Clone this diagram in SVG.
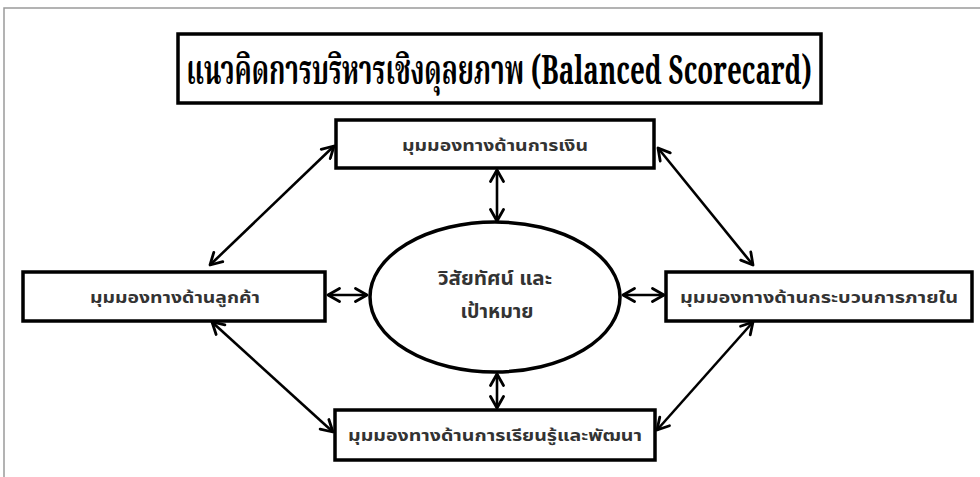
<svg xmlns="http://www.w3.org/2000/svg" width="980" height="477" viewBox="0 0 980 477">
<style>
.box{fill:#fff;stroke:#000;stroke-width:3.5}
.lbl{font-family:"Noto Sans Thai","Noto Sans","DejaVu Sans",sans-serif;font-size:16px;font-weight:bold;fill:#333;text-anchor:middle}
.ell{font-family:"Noto Sans Thai","Noto Sans","DejaVu Sans",sans-serif;font-size:20px;font-weight:bold;fill:#333;text-anchor:middle}
.title{font-family:"Noto Serif Thai","Liberation Serif","DejaVu Serif",serif;font-size:40px;font-weight:bold;fill:#000;text-anchor:middle}
.conn line{stroke:#000;stroke-width:2.6;marker-start:url(#ah);marker-end:url(#ah)}
</style>
<defs>
<marker id="ah" viewBox="0 0 16 16" refX="14" refY="8" markerWidth="16" markerHeight="16" markerUnits="userSpaceOnUse" orient="auto-start-reverse">
<path d="M2.5,1.5 L14,8 L2.5,14.5" fill="none" stroke="#000" stroke-width="2.8" stroke-linecap="round" stroke-linejoin="round"/>
</marker>
</defs>
<rect x="0" y="0" width="980" height="477" fill="#fff"/>
<rect x="4" y="8" width="1000" height="500" fill="none" stroke="#9a9a9a" stroke-width="1.5"/>
<g id="title">
<rect class="box" x="178" y="34" width="643" height="69" stroke-width="4"/>
<text class="title" transform="translate(499,84) scale(0.65,1)" x="0" y="0">แนวคิดการบริหารเชิงดุลยภาพ (Balanced Scorecard)</text>
</g>
<g id="financial">
<rect class="box" x="336" y="120" width="318" height="48"/>
<text class="lbl" x="495" y="151" textLength="186" lengthAdjust="spacingAndGlyphs">มุมมองทางด้านการเงิน</text>
</g>
<g id="customer">
<rect class="box" x="23" y="272" width="302" height="49"/>
<text class="lbl" x="175" y="303" textLength="170" lengthAdjust="spacingAndGlyphs">มุมมองทางด้านลูกค้า</text>
</g>
<g id="internal">
<rect class="box" x="666" y="272" width="306" height="49"/>
<text class="lbl" x="819" y="303" textLength="278" lengthAdjust="spacingAndGlyphs">มุมมองทางด้านกระบวนการภายใน</text>
</g>
<g id="learning">
<rect class="box" x="335" y="410" width="320" height="50"/>
<text class="lbl" x="495" y="441" textLength="294" lengthAdjust="spacingAndGlyphs">มุมมองทางด้านการเรียนรู้และพัฒนา</text>
</g>
<g id="vision">
<ellipse cx="495" cy="297" rx="125" ry="75" fill="#fff" stroke="#000" stroke-width="3.5"/>
<text class="ell" x="495" y="285" textLength="114" lengthAdjust="spacingAndGlyphs">วิสัยทัศน์ และ</text>
<text class="ell" x="497" y="318" textLength="73" lengthAdjust="spacingAndGlyphs">เป้าหมาย</text>
</g>
<g id="connectors" class="conn">
<line x1="497" y1="170" x2="497" y2="221"/>
<line x1="497" y1="374" x2="497" y2="408"/>
<line x1="328" y1="295" x2="367" y2="295"/>
<line x1="623" y1="295" x2="664" y2="295"/>
<line x1="210" y1="265" x2="334" y2="146"/>
<line x1="658" y1="148" x2="753" y2="265"/>
<line x1="212" y1="322" x2="333" y2="432"/>
<line x1="753" y1="322" x2="657" y2="430"/>
</g>
</svg>
